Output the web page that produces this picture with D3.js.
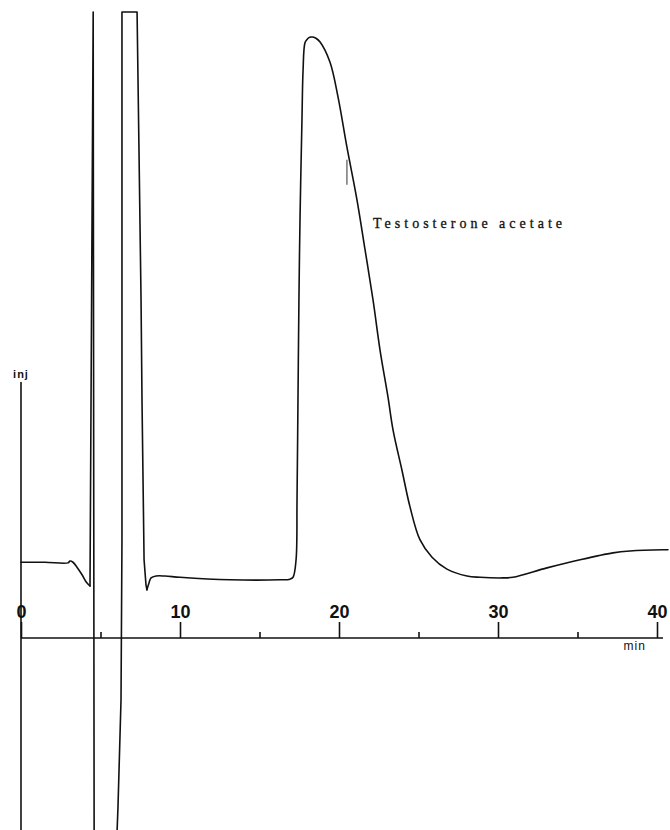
<!DOCTYPE html>
<meta charset="utf-8">
<style>
 body { margin: 0; background: #fff; }
 .trace { fill: none; stroke: #111; stroke-width: 1.6; stroke-linejoin: round; stroke-linecap: round; }
 .axis line { stroke: #111; stroke-width: 1.6; }
 .axis path { display: none; }
</style>
<body>
<script src="https://cdn.jsdelivr.net/npm/d3@7"></script>
<script>

 // retention time (min) and detector signal (% of full scale)
 var timeMin = [0, 1.51, 2.96, 3.08, 3.27, 3.52, 3.84, 4.09, 4.34, 4.54,
                4.60, 6.01, 6.10, 6.29, 6.35, 6.35, 7.30, 7.42, 7.55, 7.61,
                7.74, 7.86, 7.92, 8.05, 8.18, 8.49, 9.06, 10.0, 13.14, 16.29,
                16.92, 17.11, 17.30, 17.36, 17.42, 17.48, 17.55, 17.67, 17.74, 17.86,
                17.99, 18.11, 18.24, 18.36, 18.55, 18.81, 19.43, 19.94, 20.50, 21.13,
                21.64, 22.14, 22.58, 23.08, 23.40, 23.96, 24.47, 25.09, 25.85, 26.79,
                28.05, 28.87, 30.31, 30.94, 33.08, 35.16, 37.23, 38.30, 40.38, 40.69];
 var signal = [12.1, 12.1, 12.0, 12.3, 12.1, 11.3, 10.1, 9.0, 8.3, 100,
               -33, -33, -27.0, -9.9, 15.6, 100, 100, 78.0, 54.0, 38.0,
               12.5, 8.5, 7.7, 8.8, 9.6, 9.9, 9.9, 9.7, 9.3, 9.3,
               9.4, 9.7, 12.5, 22.0, 38.0, 54.0, 67.3, 82.7, 90.7, 95.1,
               95.6, 95.9, 96.0, 96.0, 95.8, 95.2, 92.0, 86.4, 78.4, 70.0,
               62.0, 54.0, 46.0, 38.5, 33.2, 26.8, 20.9, 15.7, 12.9, 11.0,
               9.9, 9.7, 9.6, 9.7, 11.2, 12.5, 13.6, 13.9, 14.1, 14.1];

 // the off-scale solvent excursions are drawn with straight pen strokes
 var solventStart = 8, solventEnd = 22;

 var majorTicks = [0, 10, 20, 30, 40];
 var minorTicks = [5, 15, 25, 35];
 var peakName = "Testosterone acetate";
 var unitLabel = "min";
 var injLabel = "inj";

 var width = 670, height = 830;

 var xScale = d3.scaleLinear().domain([0, 40]).range([21, 657]);
 var yScale = d3.scaleLinear().domain([0, 100]).range([638, 12]);

 var svg = d3.select("body").append("svg")
             .attr("width", width)
             .attr("height", height);

 // time axis line
 svg.append("line")
    .attr("x1", xScale(0)).attr("x2", xScale(40.38))
    .attr("y1", yScale(0)).attr("y2", yScale(0))
    .attr("stroke", "#111").attr("stroke-width", 1.6);

 // injection / signal axis
 svg.append("line")
    .attr("x1", xScale(0)).attr("x2", xScale(0))
    .attr("y1", yScale(40.9)).attr("y2", yScale(-34))
    .attr("stroke", "#111").attr("stroke-width", 1.6);

 var gMajor = svg.append("g")
                 .attr("class", "axis")
                 .attr("transform", "translate(0," + yScale(0) + ")")
                 .call(d3.axisBottom(xScale).tickValues(majorTicks).tickSizeInner(-16).tickSizeOuter(0));
 gMajor.selectAll("text")
       .attr("y", -20)
       .attr("dy", 0)
       .attr("fill", "#111")
       .attr("font-family", "'Liberation Sans', Helvetica, sans-serif")
       .attr("font-weight", "bold")
       .attr("font-size", "18px");

 svg.append("g")
    .attr("class", "axis")
    .attr("transform", "translate(0," + yScale(0) + ")")
    .call(d3.axisBottom(xScale).tickValues(minorTicks).tickSizeInner(-6).tickSizeOuter(0).tickFormat(""));

 svg.append("text")
    .attr("x", xScale(38.6))
    .attr("y", yScale(0) + 12)
    .attr("text-anchor", "middle")
    .attr("font-family", "'Liberation Sans', Helvetica, sans-serif")
    .attr("font-size", "12px")
    .attr("letter-spacing", "1px")
    .attr("fill", "#111")
    .text(unitLabel);

 svg.append("text")
    .attr("x", xScale(0))
    .attr("y", yScale(41.6))
    .attr("text-anchor", "middle")
    .attr("font-family", "'Liberation Sans', Helvetica, sans-serif")
    .attr("font-size", "11px")
    .attr("font-weight", "bold")
    .attr("letter-spacing", "1px")
    .attr("fill", "#111")
    .text(injLabel);

 // the chromatogram trace
 var points = timeMin.map(function(t, i) { return {t: t, v: signal[i]}; });

 var smooth = d3.line()
                .curve(d3.curveCatmullRom.alpha(0.5))
                .x(function(d) { return xScale(d.t); })
                .y(function(d) { return yScale(d.v); });
 var straight = d3.line()
                  .x(function(d) { return xScale(d.t); })
                  .y(function(d) { return yScale(d.v); });

 [
     [points.slice(0, solventStart + 1), smooth],
     [points.slice(solventStart, solventEnd + 1), straight],
     [points.slice(solventEnd), smooth]
 ].forEach(function(seg) {
     svg.append("path")
        .datum(seg[0])
        .attr("class", "trace")
        .attr("d", seg[1]);
 });

 // small marker beside the peak
 svg.append("line")
    .attr("x1", xScale(20.5)).attr("x2", xScale(20.5))
    .attr("y1", yScale(76.4)).attr("y2", yScale(72.4))
    .attr("stroke", "#333").attr("stroke-width", 1);

 svg.append("text")
    .attr("x", 373)
    .attr("y", 228)
    .attr("font-family", "'Liberation Serif', 'Times New Roman', serif")
    .attr("font-size", "14px")
    .attr("fill", "#111")
    .attr("stroke", "#111")
    .attr("stroke-width", 0.3)
    .attr("textLength", 189)
    .attr("lengthAdjust", "spacing")
    .text(peakName);

</script>
